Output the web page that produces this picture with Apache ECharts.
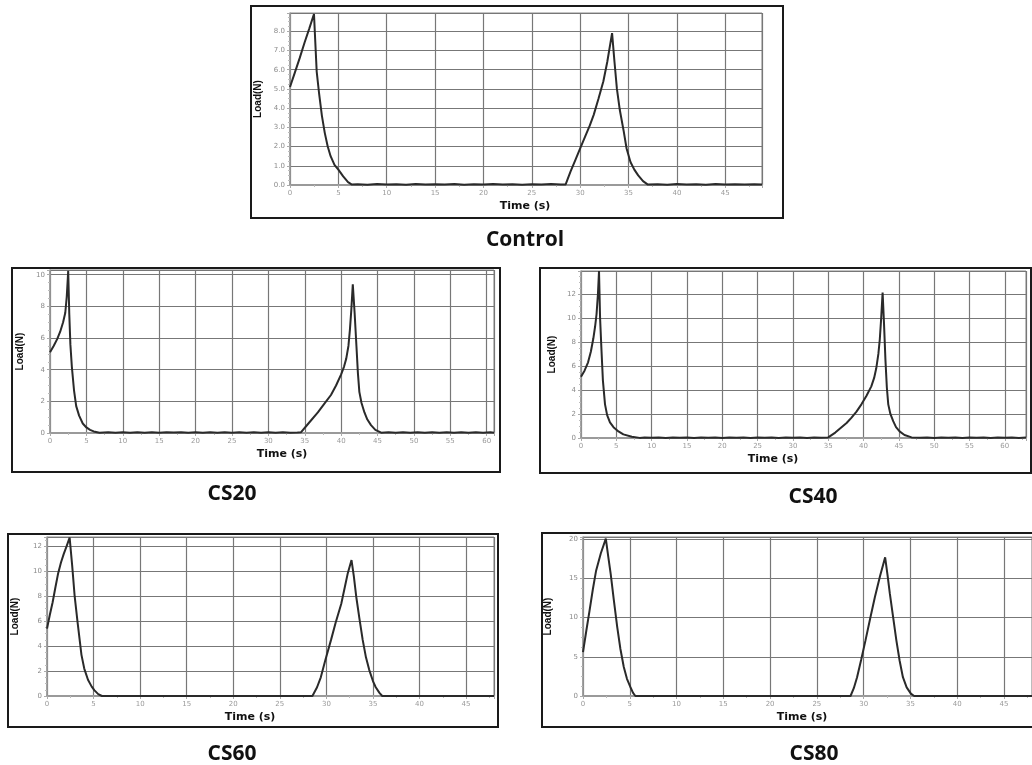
<!DOCTYPE html>
<html>
<head>
<meta charset="utf-8">
<script src="https://cdn.jsdelivr.net/npm/echarts@6/dist/echarts.min.js"></script>
<style>
  html, body { margin: 0; padding: 0; background: #fff; }
  #main { width: 1032px; height: 765px; }
</style>
</head>
<body>
<div id="main"></div>
<script>
// panel captions
const panelNames = ['Control', 'CS20', 'CS40', 'CS60', 'CS80'];

// [time (s), load (N)]
const controlData = [
  [0, 5.1], [0.5, 5.85], [1, 6.6], [1.5, 7.4], [2, 8.15], [2.48, 8.9], [2.6, 7.6], [2.76, 5.9],
  [3.0, 4.8], [3.3, 3.6], [3.6, 2.7], [3.9, 2.0], [4.2, 1.5], [4.6, 1.05], [5.0, 0.8], [5.5, 0.45],
  [6, 0.15], [6.4, 0.02], [7, 0.04], [8, 0.01], [9, 0.05], [10, 0.02], [11, 0.04], [12, 0.01],
  [13, 0.05], [14, 0.02], [15, 0.04], [16, 0.02], [17, 0.05], [18, 0.01], [19, 0.04], [20, 0.03],
  [21, 0.05], [22, 0.02], [23, 0.04], [24, 0.01], [25, 0.04], [26, 0.02], [27, 0.05], [28, 0.02],
  [28.5, 0.03], [29, 0.7], [29.5, 1.3], [30, 1.9], [30.5, 2.5], [31, 3.1], [31.4, 3.65], [31.9, 4.5],
  [32.4, 5.4], [32.8, 6.4], [33.3, 7.9], [33.55, 6.4], [33.8, 5.0], [34.1, 3.9], [34.5, 2.8],
  [34.8, 1.9], [35.2, 1.2], [35.6, 0.8], [36, 0.5], [36.5, 0.2], [37, 0.02], [38, 0.04], [39, 0.01],
  [40, 0.05], [41, 0.02], [42, 0.04], [43, 0.01], [44, 0.05], [45, 0.02], [46, 0.04], [47, 0.02],
  [48, 0.04], [48.8, 0.02]
];
const cs20Data = [
  [0, 5.1], [0.5, 5.5], [1, 5.95], [1.4, 6.4], [1.8, 7.0], [2.1, 7.6], [2.3, 8.6], [2.45, 9.8],
  [2.5, 10.25], [2.65, 7.5], [2.8, 5.6], [3.0, 4.2], [3.3, 2.7], [3.6, 1.7], [4, 1.1], [4.5, 0.6],
  [5, 0.35], [5.5, 0.2], [6, 0.1], [6.8, 0.01], [8, 0.04], [9, 0.02], [10, 0.05], [11, 0.01],
  [12, 0.04], [13, 0.02], [14, 0.05], [15, 0.01], [16, 0.04], [17, 0.03], [18, 0.05], [19, 0.01],
  [20, 0.04], [21, 0.02], [22, 0.05], [23, 0.01], [24, 0.04], [25, 0.02], [26, 0.05], [27, 0.01],
  [28, 0.04], [29, 0.02], [30, 0.05], [31, 0.01], [32, 0.04], [33, 0.02], [34, 0.03],
  [34.5, 0.05], [35.5, 0.6], [36.8, 1.3], [37.7, 1.85], [38.6, 2.4], [39.3, 3.0], [40.0, 3.7],
  [40.4, 4.2], [40.7, 4.7], [41.0, 5.5], [41.2, 6.5], [41.4, 7.8], [41.6, 9.4], [41.85, 7.6],
  [42.1, 5.5], [42.3, 3.8], [42.5, 2.6], [42.8, 1.9], [43.2, 1.3], [43.6, 0.85], [44.1, 0.5],
  [44.7, 0.2], [45.5, 0.02], [46.5, 0.04], [47.5, 0.01], [48.5, 0.05], [49.5, 0.02], [50.5, 0.04],
  [51.5, 0.01], [52.5, 0.05], [53.5, 0.02], [54.5, 0.04], [55.5, 0.01], [56.5, 0.05], [57.5, 0.02],
  [58.5, 0.04], [59.5, 0.02], [60.5, 0.05], [61, 0.02]
];
const cs40Data = [
  [0, 5.1], [0.5, 5.6], [1, 6.3], [1.4, 7.2], [1.75, 8.3], [2.0, 9.3], [2.2, 10.3], [2.4, 12.0],
  [2.55, 13.9], [2.7, 10], [2.9, 7.3], [3.1, 4.8], [3.4, 2.8], [3.7, 1.9], [4.1, 1.3], [4.6, 0.9],
  [5.3, 0.55], [6, 0.3], [7.2, 0.1], [8.3, 0.01], [9, 0.04], [10, 0.02], [11, 0.05], [12, 0.01],
  [13, 0.04], [14, 0.02], [15, 0.05], [16, 0.01], [17, 0.04], [18, 0.02], [19, 0.05], [20, 0.01],
  [21, 0.04], [22, 0.02], [23, 0.05], [24, 0.01], [25, 0.04], [26, 0.02], [27, 0.05], [28, 0.01],
  [29, 0.04], [30, 0.02], [31, 0.05], [32, 0.01], [33, 0.04], [34, 0.02],
  [35, 0.05], [36, 0.45], [36.8, 0.85], [37.6, 1.25], [38.3, 1.7], [39.0, 2.2], [39.7, 2.8],
  [40.4, 3.5], [41.1, 4.3], [41.5, 5.0], [41.8, 5.8], [42.1, 7.0], [42.3, 8.2], [42.5, 10],
  [42.7, 12.1], [42.9, 9.5], [43.1, 6.5], [43.3, 4.2], [43.5, 2.8], [43.8, 2.0], [44.2, 1.4],
  [44.6, 0.9], [45.1, 0.55], [45.8, 0.25], [46.8, 0.05], [48, 0.02], [49, 0.05], [50, 0.01],
  [51, 0.04], [52, 0.02], [53, 0.05], [54, 0.01], [55, 0.04], [56, 0.02], [57, 0.05], [58, 0.01],
  [59, 0.04], [60, 0.02], [61, 0.05], [62, 0.01], [63, 0.04]
];
const cs60Data = [
  [0, 5.4], [0.3, 6.5], [0.6, 7.5], [0.9, 8.7], [1.2, 9.85], [1.5, 10.7], [1.8, 11.4], [2.1, 12.0],
  [2.43, 12.7], [2.7, 10.5], [2.97, 8.0], [3.3, 5.8], [3.7, 3.3], [4.0, 2.2], [4.4, 1.3],
  [4.8, 0.75], [5.1, 0.45], [5.5, 0.15], [5.9, 0], [28.5, 0], [29, 0.7], [29.4, 1.5], [29.9, 2.9],
  [30.5, 4.5], [31.0, 5.9], [31.6, 7.4], [32.0, 8.8], [32.3, 9.85], [32.7, 10.9], [32.95, 9.6],
  [33.2, 8.0], [33.55, 6.2], [33.9, 4.5], [34.25, 3.1], [34.6, 2.1], [35.0, 1.2], [35.3, 0.7],
  [35.7, 0.25], [36, 0], [48, 0]
];
const cs80Data = [
  [0, 5.6], [0.35, 8.3], [0.7, 10.9], [1.05, 13.6], [1.4, 16], [1.9, 18.2], [2.44, 20.1],
  [2.7, 17.8], [2.96, 15.6], [3.3, 12.2], [3.66, 8.8], [4.0, 6.0], [4.36, 3.7], [4.7, 2.2],
  [5.06, 1.15], [5.35, 0.4], [5.6, 0], [28.6, 0], [28.95, 1.0], [29.3, 2.4], [29.75, 4.7],
  [30.2, 7.1], [30.7, 9.9], [31.2, 12.6], [31.75, 15.3], [32.3, 17.7], [32.55, 15.5], [32.8, 13.1],
  [33.15, 10.1], [33.5, 7.1], [33.85, 4.5], [34.2, 2.4], [34.6, 1.1], [35.05, 0.3], [35.4, 0],
  [48, 0]
];
const panelData = [controlData, cs20Data, cs40Data, cs60Data, cs80Data];

// axis ranges and tick steps
const xMax = [48.8, 61, 63, 48, 48];
const yMax = [8.95, 10.3, 13.9, 12.75, 20.3];
const yStep = [1, 2, 2, 2, 5];
const yDecimals = [1, 0, 0, 0, 0];

// layout of each panel (px)
const layout = [
  { grid: [290, 13, 472, 172], frame: [251, 6, 532, 212], cap: [525, 240], xName: 525, yGap: 27 },
  { grid: [50, 270, 444, 163], frame: [12, 268, 488, 204], cap: [232, 494], xName: 282, yGap: 25 },
  { grid: [581, 271, 445, 167], frame: [540, 268, 491, 205], cap: [813, 497], xName: 773, yGap: 24 },
  { grid: [47, 537, 447, 159], frame: [8, 534, 490, 193], cap: [232, 754], xName: 250, yGap: 27 },
  { grid: [583, 537, 459, 159], frame: [542, 533, 500, 194], cap: [814, 754], xName: 807, yGap: 30 }
];

const chart = echarts.init(document.getElementById('main'));

const grids = [], xAxes = [], yAxes = [], series = [], graphics = [];

layout.forEach((p, i) => {
  const [gl, gt, gw, gh] = p.grid;
  grids.push({
    left: gl, top: gt, width: gw, height: gh,
    show: true, borderColor: '#8a8a8a', borderWidth: 1, backgroundColor: '#fff'
  });
  // shift the axis title away from the grid centre where the original sits off-centre
  const shift = p.xName - (gl + gw / 2);
  xAxes.push({
    type: 'value', gridIndex: i, min: 0, max: xMax[i], interval: 5,
    name: 'Time (s)', nameLocation: 'middle', nameGap: 16,
    nameTextStyle: {
      fontFamily: 'DejaVu Sans', fontWeight: 'bold', fontSize: 11, color: '#111',
      padding: shift >= 0 ? [0, 0, 0, shift * 2] : [0, -shift * 2, 0, 0]
    },
    axisLine: { show: true, onZero: false, lineStyle: { color: '#9a9a9a', width: 2 } },
    axisTick: { show: true, length: 3, lineStyle: { color: '#aaa' } },
    minorTick: { show: true, splitNumber: 2, length: 2, lineStyle: { color: '#bbb' } },
    axisLabel: {
      showMaxLabel: false, fontFamily: 'DejaVu Sans', fontSize: 7, color: '#9a9a9a', margin: 5
    },
    splitLine: { show: true, lineStyle: { color: '#777', width: 1.2 } }
  });
  yAxes.push({
    type: 'value', gridIndex: i, min: 0, max: yMax[i], interval: yStep[i],
    name: 'Load(N)', nameLocation: 'middle', nameGap: p.yGap, nameRotate: 90,
    nameTextStyle: { fontFamily: 'Liberation Sans', fontWeight: 'bold', fontSize: 10, color: '#111' },
    axisLine: { show: true, lineStyle: { color: '#9a9a9a', width: 1.5 } },
    axisTick: { show: true, length: 3, lineStyle: { color: '#aaa' } },
    minorTick: { show: true, splitNumber: 4, length: 2, lineStyle: { color: '#bbb' } },
    axisLabel: {
      showMaxLabel: false, fontFamily: 'DejaVu Sans', fontSize: 7, color: '#8a8a8a', margin: 5,
      formatter: v => v.toFixed(yDecimals[i])
    },
    splitLine: { show: true, lineStyle: { color: '#777', width: 1.2 } }
  });
  series.push({
    type: 'line', xAxisIndex: i, yAxisIndex: i, data: panelData[i],
    showSymbol: false, smooth: false, clip: true,
    lineStyle: { color: '#2a2a2a', width: 2 }
  });
  const [fx, fy, fw, fh] = p.frame;
  graphics.push({
    type: 'rect', shape: { x: fx, y: fy, width: fw, height: fh }, silent: true, z: 100,
    style: { fill: 'none', stroke: '#1a1a1a', lineWidth: 2 }
  });
  graphics.push({
    type: 'text', x: p.cap[0], y: p.cap[1], z: 100,
    style: {
      text: panelNames[i], align: 'center', verticalAlign: 'middle',
      font: 'bold 21px "Open Sans"', fill: '#111'
    }
  });
});

const option = {
  animation: false,
  backgroundColor: '#fff',
  grid: grids,
  xAxis: xAxes,
  yAxis: yAxes,
  series: series,
  graphic: graphics
};

chart.setOption(option);
</script>
</body>
</html>
